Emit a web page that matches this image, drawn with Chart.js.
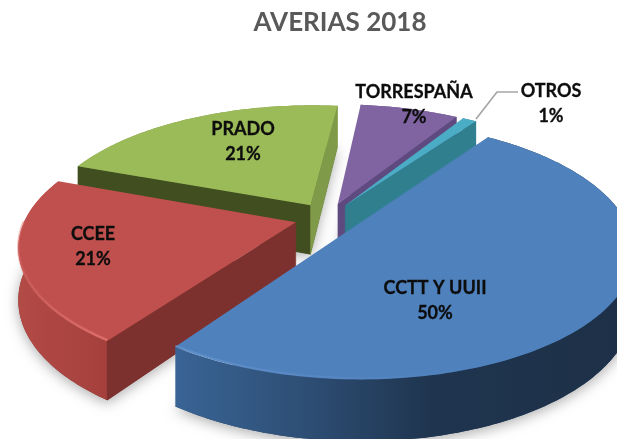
<!DOCTYPE html>
<html><head><meta charset="utf-8">
<style>html,body{margin:0;padding:0;background:#fff}canvas{display:block}</style>
<script src="https://cdn.jsdelivr.net/npm/chart.js@4"></script>
</head><body>
<div style="width:617px;height:439px"><canvas id="c"></canvas></div>
<script>
const categories = ['CCTT Y UUII','CCEE','PRADO','TORRESPAÑA','OTROS'];
const values = [50,21,21,7,1];
const topColors = ['#4f81bd','#c0504d','#9bbb59','#8064a2','#4bacc6'];
const wallColors = ['#2a476b','#7d312e','#414f20','#5f4a80','#2f7f8f'];
const endWallColors = ['#2a476b','#7d312e','#7f9a48','#5f4a80','#2f7f8f'];
const rimStops = [
 [[170,'#3a6596'],[300,'#2e4f76'],[430,'#1f354f'],[617,'#1d3047']],
 [[20,'#b24a46'],[110,'#a4403c']],
 [[80,'#7f9a48'],[340,'#7f9a48']],
 [[340,'#5f4a80'],[470,'#5f4a80']],
 [[345,'#2f7f8f'],[490,'#2f7f8f']]
];
const bevelColors = ['#7aa5dc','#dd6f6a','#b5d277','#9a80bd','#6cc6de'];
const paintOrder = [2,3,4,1,0];
const labelSpots = [[435,288],[93,234],[243,129],[414,92],[551,91]];

const view = {cx:327.5, cy:217.7, R:270, squash:122, persp:0.18, depth:50, explode:33};

function pt(a, r, z, mid){
  const gx = view.explode*Math.cos(mid) + r*Math.cos(a);
  const gy = view.explode*Math.sin(mid) + r*Math.sin(a);
  const f = 1/(1 - view.persp*gy/view.R);
  return [view.cx + gx*f, view.cy + gy*(view.squash/view.R)*f + z*f];
}
function arcPts(a0,a1,z,mid){
  const n = Math.max(2,Math.ceil(Math.abs(a1-a0)/(Math.PI/180)));
  const out=[];
  for(let i=0;i<=n;i++){ out.push(pt(a0+(a1-a0)*i/n, view.R, z, mid)); }
  return out;
}
function poly(ctx,pts){ ctx.beginPath(); pts.forEach((p,i)=> i?ctx.lineTo(p[0],p[1]):ctx.moveTo(p[0],p[1])); ctx.closePath(); }

function wall(ctx,a,mid,M,color){
  const A=pt(0,0,0,mid),B=pt(a,view.R,0,mid);
  const C=pt(a,view.R,view.depth,mid),D=pt(0,0,view.depth,mid);
  const ex=B[0]-A[0],ey=B[1]-A[1];
  const inner=ex*(M[1]-A[1])-ey*(M[0]-A[0]);
  const down=ex;
  if(inner*down<0){ poly(ctx,[A,B,C,D]); ctx.fillStyle=color; ctx.fill(); ctx.strokeStyle=color; ctx.lineWidth=.5; ctx.stroke(); }
}

const pie3d = {
  id:'pie3d',
  beforeDatasetDraw(chart){
    const ctx=chart.ctx, arcs=chart.getDatasetMeta(0).data;
    ctx.save();
    paintOrder.forEach(i=>{
      const el=arcs[i], a0=el.startAngle, a1=el.endAngle, mid=(a0+a1)/2;
      const M=pt(mid,view.R*.6,0,mid);
      ctx.save();
      ctx.shadowColor='rgba(0,0,0,.32)'; ctx.shadowBlur=13; ctx.shadowOffsetY=3;
      poly(ctx,[pt(0,0,view.depth,mid),...arcPts(a0,a1,view.depth,mid)]);
      ctx.fillStyle=wallColors[i]; ctx.fill();
      ctx.restore();
      const top=arcPts(a0,a1,0,mid), bot=arcPts(a0,a1,view.depth,mid).reverse();
      const stops=rimStops[i], g=ctx.createLinearGradient(stops[0][0],0,stops[stops.length-1][0],0);
      stops.forEach(s=>g.addColorStop((s[0]-stops[0][0])/(stops[stops.length-1][0]-stops[0][0]),s[1]));
      poly(ctx,[...top,...bot]); ctx.fillStyle=g; ctx.fill();
      wall(ctx,a0,mid,M,wallColors[i]);
      wall(ctx,a1,mid,M,endWallColors[i]);
      poly(ctx,[pt(0,0,0,mid),...top]); ctx.fillStyle=topColors[i]; ctx.fill();
      const fa0=Math.max(a0,0), fa1=Math.min(a1,Math.PI);
      if(fa1>fa0 && i<2){
        const b=arcPts(fa0,fa1,0,mid);
        ctx.beginPath(); b.forEach((p,k)=> k?ctx.lineTo(p[0],p[1]-1):ctx.moveTo(p[0],p[1]-1));
        const bg=ctx.createLinearGradient(i?20:170,0,i?110:450,0);
        bg.addColorStop(0,bevelColors[i]+'66'); bg.addColorStop(1,bevelColors[i]+(i?'ff':'00'));
        ctx.strokeStyle=bg; ctx.lineWidth=2.5; ctx.stroke();
      }
    });
    ctx.restore();
    return false;
  },
  afterDatasetsDraw(chart){
    const ctx=chart.ctx;
    ctx.save();
    ctx.strokeStyle='#a6a6a6'; ctx.lineWidth=1.7;
    ctx.beginPath(); ctx.moveTo(518,92); ctx.lineTo(497,92); ctx.lineTo(476,119); ctx.stroke();
    ctx.fillStyle='#0d0d0d'; ctx.strokeStyle='#0d0d0d'; ctx.lineWidth=.3;
    ctx.font='bold 18px Lato'; ctx.textAlign='center'; ctx.textBaseline='middle';
    categories.forEach((c,i)=>{
      const [x,y]=labelSpots[i];
      ctx.fillText(c,x,y); ctx.strokeText(c,x,y);
      const pct=values[i]+'%';
      ctx.fillText(pct,x,y+25.5); ctx.strokeText(pct,x,y+25.5);
    });
    ctx.restore();
  }
};

new Chart(document.getElementById('c'),{
  type:'pie',
  data:{labels:categories,datasets:[{data:values,backgroundColor:topColors,offset:33,borderWidth:0}]},
  options:{
    responsive:true,maintainAspectRatio:false,animation:false,
    rotation:35,
    layout:{padding:{left:63,top:6}},
    plugins:{
      legend:{display:false},
      tooltip:{enabled:false},
      title:{display:true,text:'AVERIAS 2018',color:'#595959',font:{family:'Lato',size:26,weight:'bold'},padding:{top:1,bottom:10}}
    }
  },
  plugins:[pie3d]
});
</script>
</body></html>
